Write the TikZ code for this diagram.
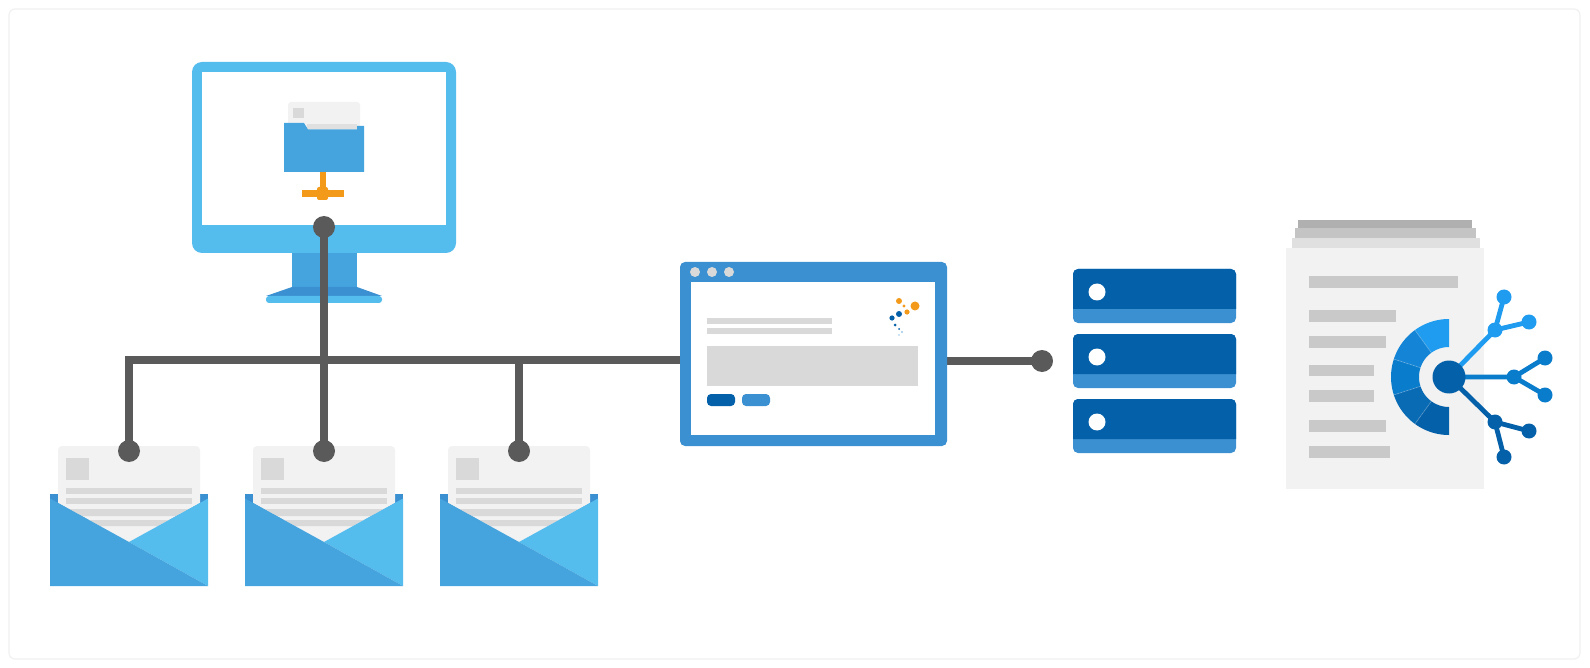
\documentclass[tikz,border=0pt]{standalone}
\definecolor{skyb}{HTML}{55BCEE}
\definecolor{midb}{HTML}{45A4DD}
\definecolor{stdb}{HTML}{3B90D1}
\definecolor{navy}{HTML}{0460A9}
\definecolor{bri}{HTML}{1F9BEF}
\definecolor{bri2}{HTML}{1485D6}
\definecolor{bri3}{HTML}{0A7CCC}
\definecolor{bri4}{HTML}{0A6BB5}
\definecolor{wire}{HTML}{5A5A5A}
\definecolor{paper}{HTML}{F2F2F2}
\definecolor{bar}{HTML}{D9D9D9}
\definecolor{bar2}{HTML}{C9C9C9}
\definecolor{stacka}{HTML}{B0B0B0}
\definecolor{stackb}{HTML}{C4C4C4}
\definecolor{stackc}{HTML}{E0E0E0}
\definecolor{orng}{HTML}{F39A1A}
\definecolor{frm}{HTML}{F1F1F1}
\pgfdeclarelayer{base}
\pgfdeclarelayer{wires}
\pgfsetlayers{base,wires,main}
\tikzset{
  x=0.5pt,y=-0.5pt,
  wiredot/.style={circle,fill=wire,draw=none,minimum size=11pt,inner sep=0pt,outer sep=0pt},
  wireline/.style={draw=wire,line width=4pt},
  hubdot/.style={circle,draw=none,inner sep=0pt,outer sep=0pt,minimum size=7.5pt},
  twig/.style={line width=2.4pt},
  webbox/.style={fill=stdb,rounded corners=2.5pt,minimum width=133.5pt,minimum height=92pt,inner sep=0pt,outer sep=0pt,anchor=north west},
}
% envelope: #1 = centre x, #2 = node name of its dot
\newcommand{\envelope}[2]{%
  \begin{pgfonlayer}{base}
  \fill[stdb] (#1-79,494) rectangle (#1+79,520);
  \fill[paper] (#1-71,503) {[rounded corners=2pt] -- (#1-71,446) -- (#1+71,446)} -- (#1+71,503) -- (#1,542) -- cycle;
  \fill[bar] (#1-63,458) rectangle (#1-40,480);
  \fill[bar] (#1-63,488) rectangle (#1+63,494);
  \fill[bar] (#1-63,498) rectangle (#1+63,504);
  \fill[bar] (#1-60,509) -- (#1+60,509) -- (#1+47,516) -- (#1-47,516) -- cycle;
  \fill[bar] (#1-40,520) -- (#1+40,520) -- (#1+29,526) -- (#1-29,526) -- cycle;
  \fill[skyb] (#1+79,498.5) -- (#1,542) -- (#1+79,586) -- cycle;
  \fill[midb] (#1-79,498.5) -- (#1,542) -- (#1+79,586) -- (#1-79,586) -- cycle;
  \end{pgfonlayer}
  \node[wiredot] (#2) at (#1,451) {};
}
% server: #1 = top y
\newcommand{\serverunit}[1]{%
  \fill[stdb,rounded corners=2.5pt] (1073,#1) rectangle (1236,#1+54);
  \fill[navy] (1073,#1+40) {[rounded corners=2.5pt] -- (1073,#1) -- (1236,#1)} -- (1236,#1+40) -- cycle;
  \fill[white] (1097,#1+23) circle[radius=8.5];
}
\begin{document}
\begin{tikzpicture}
\useasboundingbox (0,0) rectangle (1590,668);
\begin{pgfonlayer}{base}
\fill[white] (0,0) rectangle (1590,668);
\draw[frm,line width=0.6pt,rounded corners=3pt] (9,9) rectangle (1580,659);

% monitor
\fill[midb] (292,250) rectangle (357,290);
\fill[stdb] (292,287) -- (357,287) -- (382,296) -- (266,296) -- cycle;
\fill[skyb,rounded corners=1.5pt] (266,296) rectangle (382,303);
\fill[skyb,rounded corners=5pt] (192,62) rectangle (456,253);
\fill[white] (202,72) rectangle (446,225);

% folder
\fill[paper,rounded corners=1.5pt] (288,102) rectangle (360,135);
\fill[bar] (293,108) rectangle (304,118);
\fill[bar!70!paper] (307,124) rectangle (357,129);
\fill[midb] (284,123) -- (304,123) -- (308,129.5) -- (357,129.5) -- (357,126) -- (364,126) -- (364,172) -- (284,172) -- cycle;
\fill[orng] (320,172) rectangle (326,190);
\fill[orng] (302,190) rectangle (344,197);
\fill[orng,rounded corners=1pt] (317,187) rectangle (328,200);

% server stack
\serverunit{269}
\serverunit{334}
\serverunit{399}

% document
\fill[stacka] (1298,220) rectangle (1472,228);
\fill[stackb] (1295,228) rectangle (1476,238);
\fill[stackc] (1292,238) rectangle (1480,248);
\fill[paper] (1286,248) rectangle (1484,489);
\foreach \xe/\ya/\yb in {1458/276/288,1396/310/322,1386/336/348,1374/365/376,1374/390/402,1386/420/432,1390/446/458}
  \fill[bar2] (1309,\ya) rectangle (\xe,\yb);

% gauge
\foreach \a/\colr in {90/bri,126/bri2,162/bri3,198/bri4,234/navy}
  \fill[\colr] ({1449+58*cos(\a)},{377-58*sin(\a)})
    -- plot[domain=\a:\a+36,samples=16,variable=\t] ({1449+58*cos(\t)},{377-58*sin(\t)})
    -- plot[domain=\a+36:\a,samples=16,variable=\t] ({1449+30*cos(\t)},{377-30*sin(\t)})
    -- cycle;
\foreach \a in {126,162,198,234}
  \draw[white,opacity=.2,line width=.4pt] ({1449+30*cos(\a)},{377-30*sin(\a)}) -- ({1449+58*cos(\a)},{377-58*sin(\a)});
\end{pgfonlayer}

% envelopes
\envelope{129}{m1}
\envelope{324}{m2}
\envelope{519}{m3}

% browser
\node[webbox] (web) at (680,262) {};
\fill[white] (691,282) rectangle (935,435);
\foreach \xc in {695,712,729} \fill[bar] (\xc,272) circle[radius=5];
\fill[bar] (707,318) rectangle (832,324);
\fill[bar] (707,328) rectangle (832,334);
\fill[bar] (707,346) rectangle (918,386);
\fill[navy,rounded corners=2pt] (707,394) rectangle (735,406);
\fill[stdb,rounded corners=2pt] (742,394) rectangle (770,406);
\foreach \xc/\yc/\rr in {899/301/3,904/306/1.7,907/312/2.6,915/306/4.5}
  \fill[orng] (\xc,\yc) circle[radius=\rr];
\foreach \xc/\yc/\rr in {899/314/3,892/318/2.6,895/325/1.5,899/329/1}
  \fill[navy] (\xc,\yc) circle[radius=\rr];
\fill[stdb!50] (902,332) circle[radius=1.2];
\fill[stdb!50] (899,335) circle[radius=0.9];

% dots and connectors
\node[wiredot] (mon) at (324,227) {};
\node[wiredot] (srv) at (1042,361) {};
\coordinate (busL) at (129,360);
\coordinate (busR) at (519,360);
\begin{pgfonlayer}{wires}
\draw[wireline] (mon.center) -- (m2.center);
\draw[wireline,line join=miter] (m1.center) -- (busL) -- (web.center |- busL);
\draw[wireline,line cap=rect] (m3.center) -- (busR);
\draw[wireline] (web.center |- srv) -- (srv.center);
\end{pgfonlayer}

% tree
\node[hubdot,fill=navy,minimum size=16.5pt] (hub) at (1449,377) {};
\node[hubdot,fill=bri] (u0) at (1495,330) {};
\node[hubdot,fill=bri] (u1) at (1504,297) {};
\node[hubdot,fill=bri] (u2) at (1529,322) {};
\node[hubdot,fill=bri3] (c0) at (1514,377) {};
\node[hubdot,fill=bri3] (c1) at (1545,358) {};
\node[hubdot,fill=bri3] (c2) at (1545,395) {};
\node[hubdot,fill=navy] (l0) at (1495,422) {};
\node[hubdot,fill=navy] (l1) at (1529,431) {};
\node[hubdot,fill=navy] (l2) at (1504,457) {};
\begin{pgfonlayer}{wires}
\draw[twig,bri] (hub.center) -- (u0.center) (u0.center) -- (u1.center) (u0.center) -- (u2.center);
\draw[twig,bri3] (hub.center) -- (c0.center) (c0.center) -- (c1.center) (c0.center) -- (c2.center);
\draw[twig,navy] (hub.center) -- (l0.center) (l0.center) -- (l1.center) (l0.center) -- (l2.center);
\end{pgfonlayer}
\end{tikzpicture}
\end{document}
